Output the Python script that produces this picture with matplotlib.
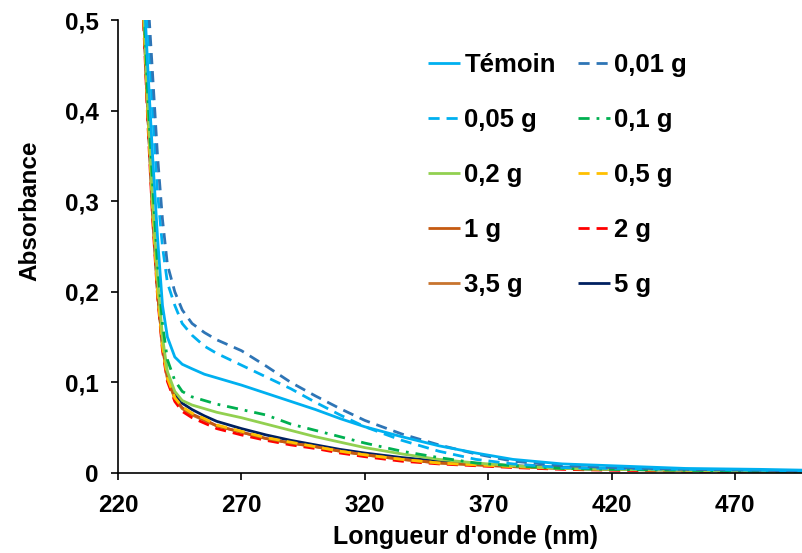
import numpy as np
import matplotlib
matplotlib.use("Agg")
import matplotlib.pyplot as plt

plt.rcParams['font.family'] = ['Liberation Sans', 'DejaVu Sans']
plt.rcParams['font.weight'] = 'bold'

# wavelength grid (nm) and absorbance
wl = [230, 232, 234, 236, 238, 240, 243, 246, 250, 255, 260, 270, 280, 290,
      300, 310, 320, 335, 350, 365, 380, 400, 420, 450, 480, 500]

temoin = [0.56, 0.45, 0.35, 0.26, 0.185, 0.150, 0.128, 0.120, 0.115, 0.109, 0.105, 0.097, 0.088, 0.079,
          0.070, 0.060, 0.051, 0.040, 0.030, 0.022, 0.015, 0.010, 0.008, 0.005, 0.004, 0.003]
g001 = [0.62, 0.53, 0.44, 0.35, 0.28, 0.230, 0.200, 0.180, 0.165, 0.155, 0.147, 0.135, 0.118, 0.100,
        0.085, 0.071, 0.058, 0.043, 0.031, 0.021, 0.013, 0.008, 0.006, 0.004, 0.003, 0.002]
g005 = [0.58, 0.50, 0.40, 0.31, 0.25, 0.210, 0.185, 0.165, 0.152, 0.140, 0.132, 0.119, 0.106, 0.093,
        0.078, 0.064, 0.051, 0.036, 0.024, 0.015, 0.010, 0.006, 0.005, 0.004, 0.003, 0.002]
g01 = [0.55, 0.42, 0.32, 0.23, 0.165, 0.125, 0.102, 0.090, 0.084, 0.080, 0.076, 0.070, 0.064, 0.054,
       0.047, 0.040, 0.033, 0.024, 0.017, 0.011, 0.008, 0.005, 0.004, 0.003, 0.002, 0.0015]
g02 = [0.54, 0.41, 0.30, 0.215, 0.150, 0.112, 0.090, 0.080, 0.075, 0.071, 0.067, 0.061, 0.054, 0.047,
       0.040, 0.034, 0.028, 0.021, 0.015, 0.011, 0.008, 0.005, 0.004, 0.003, 0.002, 0.0015]
g05 = [0.53, 0.40, 0.29, 0.20, 0.140, 0.105, 0.083, 0.073, 0.066, 0.060, 0.053, 0.046, 0.039, 0.034,
       0.029, 0.024, 0.020, 0.015, 0.011, 0.009, 0.007, 0.005, 0.004, 0.003, 0.002, 0.0015]
g1 = [0.53, 0.40, 0.29, 0.20, 0.140, 0.105, 0.083, 0.072, 0.065, 0.059, 0.052, 0.045, 0.038, 0.033,
      0.029, 0.024, 0.020, 0.015, 0.011, 0.009, 0.007, 0.005, 0.004, 0.003, 0.002, 0.0015]
g2 = [0.52, 0.39, 0.28, 0.195, 0.135, 0.101, 0.079, 0.068, 0.061, 0.055, 0.049, 0.042, 0.036, 0.031,
      0.027, 0.022, 0.018, 0.013, 0.010, 0.008, 0.006, 0.004, 0.003, 0.002, 0.0015, 0.001]
g35 = [0.53, 0.40, 0.29, 0.20, 0.140, 0.104, 0.082, 0.071, 0.064, 0.058, 0.052, 0.045, 0.038, 0.033,
       0.029, 0.024, 0.020, 0.015, 0.011, 0.009, 0.007, 0.005, 0.004, 0.003, 0.002, 0.0015]
g5 = [0.53, 0.40, 0.29, 0.20, 0.142, 0.108, 0.087, 0.077, 0.070, 0.063, 0.057, 0.049, 0.042, 0.036,
      0.031, 0.026, 0.022, 0.017, 0.013, 0.010, 0.008, 0.006, 0.005, 0.004, 0.003, 0.002]

labels = ['Témoin', '0,01 g', '0,05 g', '0,1 g', '0,2 g', '0,5 g', '1 g', '2 g', '3,5 g', '5 g']
series = [temoin, g001, g005, g01, g02, g05, g1, g2, g35, g5]
colors = ['#00B0F0', '#2E75B6', '#00B0F0', '#00B050', '#92D050',
          '#FFC000', '#C55A11', '#FF0000', '#C8742E', '#002060']
styles = ['-', (0, (4, 2.5)), (0, (4, 2.5)), (0, (4, 2.5, 1, 2.5)), '-',
          (0, (4, 2.5)), '-', (0, (4, 2.5)), '-', '-']

fig = plt.figure(figsize=(8.03, 5.53), dpi=100)
ax = fig.add_axes([0.147, 0.1447, 0.853, 0.8191])

# draw in reverse so lower curves sit under the upper ones like the original
lines = {}
for i in range(len(series) - 1, -1, -1):
    ln, = ax.plot(wl, series[i], color=colors[i], linestyle=styles[i], lw=2.0,
                  label=labels[i], solid_capstyle='butt', dash_capstyle='butt')
    lines[i] = ln

ax.set_xlim(220, 497.5)
ax.set_ylim(0, 0.5)
ax.set_xticks([220, 270, 320, 370, 420, 470])
ax.set_yticks([0, 0.1, 0.2, 0.3, 0.4, 0.5])
ax.set_yticklabels(['0', '0,1', '0,2', '0,3', '0,4', '0,5'])
ax.tick_params(axis='both', direction='out', length=5, width=1.2, labelsize=17.5)
ax.tick_params(axis='y', pad=9)
ax.tick_params(axis='x', pad=10)

for s in ['top', 'right']:
    ax.spines[s].set_visible(False)
for s in ['left', 'bottom']:
    ax.spines[s].set_linewidth(1.2)

ax.set_xlabel("Longueur d'onde (nm)", fontsize=18, fontweight='bold')
ax.set_ylabel('Absorbance', fontsize=17.5, fontweight='bold')
ax.xaxis.set_label_coords(0.507, -0.115)
ax.yaxis.set_label_coords(-0.112, 0.578)

# legend filled row-wise: two columns
order = list(range(0, 10, 2)) + list(range(1, 10, 2))
ax.legend([lines[i] for i in order], [labels[i] for i in order],
          ncol=2, frameon=False, fontsize=18.5, handlelength=1.25, handletextpad=0.15,
          columnspacing=0.85, labelspacing=1.2, borderaxespad=0,
          loc='upper left', bbox_to_anchor=(0.438, 0.949))

fig.savefig('out.png', dpi=100)
